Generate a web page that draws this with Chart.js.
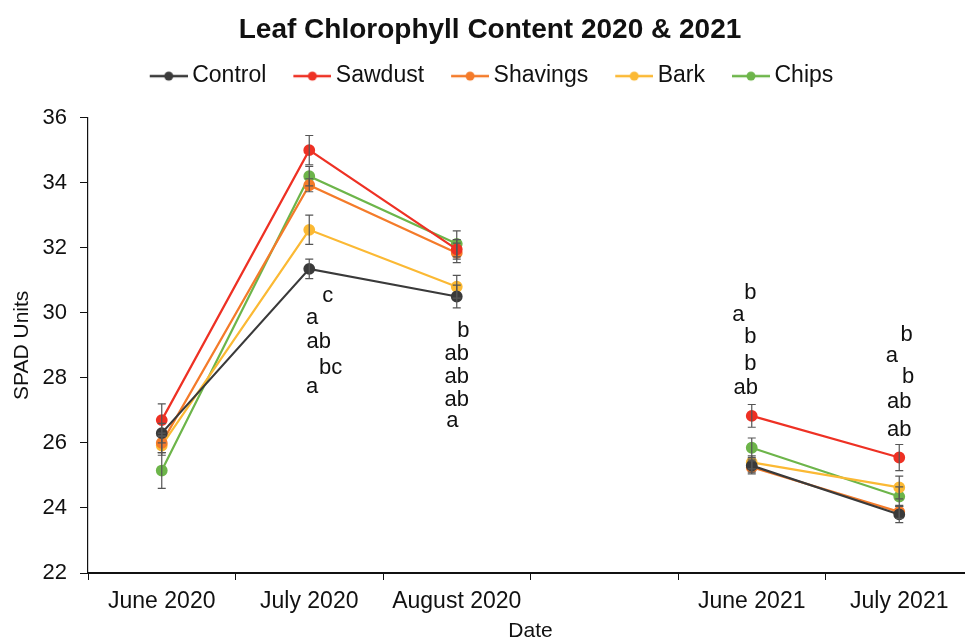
<!DOCTYPE html>
<html>
<head>
<meta charset="utf-8">
<script src="https://cdn.jsdelivr.net/npm/chart.js@4/dist/chart.umd.min.js"></script>
<style>
  html, body { margin: 0; padding: 0; background: #fff; overflow: hidden; }
  #wrap { width: 965px; height: 642px; position: relative; overflow: hidden; }
  #c { display: block; }
</style>
</head>
<body>
<div id="wrap"><canvas id="c" width="980" height="642"></canvas></div>
<script>
// Sampling dates (the blank slot separates the two seasons)
const dates = ['June 2020', 'July 2020', 'August 2020', '', 'June 2021', 'July 2021'];

// Mean SPAD readings per mulch treatment
const control  = [26.30, 31.35, 30.50, null, 25.30, 23.80];
const sawdust  = [26.70, 35.00, 31.95, null, 26.83, 25.55];
const shavings = [26.00, 33.92, 31.84, null, 25.25, 23.88];
const bark     = [25.92, 32.55, 30.80, null, 25.40, 24.63];
const chips    = [25.15, 34.20, 32.12, null, 25.85, 24.35];

// Standard errors
const controlErr  = [0.30, 0.30, 0.35, null, 0.20, 0.25];
const sawdustErr  = [0.50, 0.45, 0.30, null, 0.35, 0.40];
const shavingsErr = [0.30, 0.20, 0.30, null, 0.20, 0.20];
const barkErr     = [0.30, 0.45, 0.35, null, 0.20, 0.35];
const chipsErr    = [0.55, 0.30, 0.40, null, 0.30, 0.30];

// Mean-separation letters: date index, letter, SPAD level, sideways shift (fraction of a date slot)
const letterDate  = [1, 1, 1, 1, 1,  2, 2, 2, 2, 2,  4, 4, 4, 4, 4,  5, 5, 5, 5, 5];
const letterText  = ['c', 'a', 'ab', 'bc', 'a',  'b', 'ab', 'ab', 'ab', 'a',  'b', 'a', 'b', 'b', 'ab',  'b', 'a', 'b', 'ab', 'ab'];
const letterLevel = [30.52, 29.85, 29.10, 28.30, 27.72,  29.45, 28.72, 28.03, 27.32, 26.68,
                     30.60, 29.94, 29.26, 28.43, 27.70,  29.32, 28.68, 28.03, 27.26, 26.40];
const letterShift = [0.125, 0.02, 0.065, 0.145, 0.02,  0.045, 0.0, 0.0, 0.0, -0.03,
                     -0.01, -0.09, -0.01, -0.01, -0.04,  0.05, -0.05, 0.06, 0.0, 0.0];

const yTicks = [22, 24, 26, 28, 30, 32, 34, 36];

const FONT = '"Liberation Sans", Arial, Helvetica, sans-serif';

const series = [
  { name: 'Control',  data: control,  err: controlErr,  color: '#3a3a3a' },
  { name: 'Sawdust',  data: sawdust,  err: sawdustErr,  color: '#ee3124' },
  { name: 'Shavings', data: shavings, err: shavingsErr, color: '#f47b2a' },
  { name: 'Bark',     data: bark,     err: barkErr,     color: '#fbb934' },
  { name: 'Chips',    data: chips,    err: chipsErr,    color: '#6db54a' }
];

// Legend marker: short line with a dot, sitting at the right end of a wider transparent canvas
function legendMarker(color) {
  const cv = document.createElement('canvas');
  cv.width = 62; cv.height = 12;
  const g = cv.getContext('2d');
  g.strokeStyle = color; g.lineWidth = 2.5;
  g.beginPath(); g.moveTo(24, 6); g.lineTo(62, 6); g.stroke();
  g.fillStyle = color;
  g.beginPath(); g.arc(43, 6, 4.5, 0, Math.PI * 2); g.fill();
  return cv;
}

// Extra room between the legend row and the plot; row nudged slightly left
const legendGap = {
  id: 'legendGap',
  beforeInit(chart) {
    const lg = chart.legend;
    if (!lg) return;
    const fit = lg.fit;
    lg.fit = function () { fit.call(this); this.height += 20; };
  },
  afterLayout(chart) {
    if (chart.legend) chart.legend.right -= 14;
  }
};

// Vertical error bars with caps
const errorBars = {
  id: 'errorBars',
  afterDatasetsDraw(chart) {
    const { ctx, scales: { x, y } } = chart;
    ctx.save();
    ctx.strokeStyle = '#555';
    ctx.lineWidth = 1.2;
    chart.data.datasets.forEach((ds) => {
      ds.data.forEach((v, i) => {
        const e = ds.errors[i];
        if (v == null || e == null) return;
        const px = x.getPixelForValue(i);
        const top = y.getPixelForValue(v + e);
        const bot = y.getPixelForValue(v - e);
        ctx.beginPath();
        ctx.moveTo(px, top); ctx.lineTo(px, bot);
        ctx.moveTo(px - 4, top); ctx.lineTo(px + 4, top);
        ctx.moveTo(px - 4, bot); ctx.lineTo(px + 4, bot);
        ctx.stroke();
      });
    });
    ctx.restore();
  }
};

// Significance letters placed in data units
const sigLetters = {
  id: 'sigLetters',
  afterDraw(chart) {
    const { ctx, scales: { x, y } } = chart;
    const slot = x.getPixelForValue(1) - x.getPixelForValue(0);
    ctx.save();
    ctx.font = '22px ' + FONT;
    ctx.fillStyle = '#111';
    ctx.textAlign = 'center';
    ctx.textBaseline = 'middle';
    letterText.forEach((t, k) => {
      const px = x.getPixelForValue(letterDate[k]) + letterShift[k] * slot;
      const py = y.getPixelForValue(letterLevel[k]);
      ctx.fillText(t, px, py);
    });
    ctx.restore();
  }
};

new Chart(document.getElementById('c'), {
  type: 'line',
  data: {
    labels: dates,
    datasets: series.map(s => ({
      label: s.name,
      data: s.data,
      errors: s.err,
      borderColor: s.color,
      backgroundColor: s.color,
      pointBackgroundColor: s.color,
      pointBorderColor: s.color,
      borderWidth: 2.2,
      pointRadius: 4.8,
      pointHoverRadius: 4.8,
      spanGaps: false,
      tension: 0
    }))
  },
  options: {
    responsive: false,
    animation: false,
    events: [],
    layout: { padding: { left: 0, right: 0, top: 0, bottom: 0 } },
    plugins: {
      title: {
        display: true,
        text: 'Leaf Chlorophyll Content 2020 & 2021',
        color: '#111',
        font: { family: FONT, size: 28, weight: 'bold' },
        padding: { top: 13, bottom: 8 }
      },
      legend: {
        display: true,
        position: 'top',
        labels: {
          usePointStyle: true,
          pointStyleWidth: 48,
          color: '#111',
          font: { family: FONT, size: 23 },
          padding: 10,
          generateLabels(chart) {
            return chart.data.datasets.map((ds, i) => ({
              text: ds.label,
              pointStyle: legendMarker(ds.borderColor),
              fillStyle: ds.borderColor,
              strokeStyle: ds.borderColor,
              lineWidth: 0,
              fontColor: '#111',
              hidden: false,
              datasetIndex: i
            }));
          }
        }
      },
      tooltip: { enabled: false }
    },
    scales: {
      x: {
        type: 'category',
        offset: true,
        afterFit(axis) { axis.height = 69; },
        border: { display: true, color: '#111', width: 2 },
        grid: { display: true, offset: true, drawOnChartArea: false, drawTicks: true, tickLength: 7, color: '#111', lineWidth: 1 },
        ticks: { color: '#111', font: { family: FONT, size: 23 }, padding: 8, maxRotation: 0, autoSkip: false },
        title: { display: true, text: 'Date', color: '#111', font: { family: FONT, size: 21 }, padding: { top: 0, bottom: -2 } }
      },
      y: {
        min: 22,
        max: 36,
        afterBuildTicks(axis) { axis.ticks = yTicks.map(v => ({ value: v })); },
        afterFit(axis) { axis.width = 88; },
        border: { display: true, color: '#111', width: 1.2 },
        grid: { display: true, drawOnChartArea: false, drawTicks: true, tickLength: 8, color: '#111' },
        ticks: { color: '#111', font: { family: FONT, size: 22 }, padding: 13 },
        title: { display: true, text: 'SPAD Units', color: '#111', font: { family: FONT, size: 21 }, padding: { top: 10, bottom: 0 } }
      }
    }
  },
  plugins: [legendGap, errorBars, sigLetters]
});
</script>
</body>
</html>
